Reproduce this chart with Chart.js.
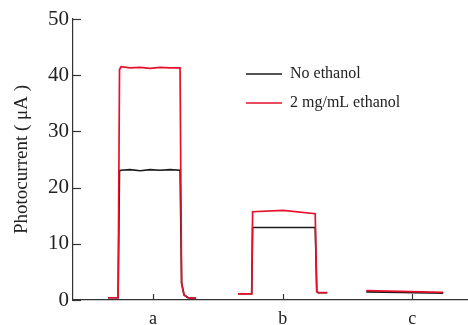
<!DOCTYPE html>
<html>
<head>
    <title>Photocurrent response</title>
    <script src="https://cdn.jsdelivr.net/npm/chart.js"></script>
    <style>
        body {
            margin: 0;
            background: #ffffff;
        }

        .chart-box {
            width: 468px;
            height: 325px;
        }
    </style>
</head>
<body>
<div class="chart-box">
    <canvas id="photoChart"></canvas>
</div>

<script>
    // x positions are in category units (a = 1, b = 2, c = 3)
    const categories = ['a', 'b', 'c'];
    const yTicks = [0, 10, 20, 30, 40, 50];

    // trace a
    const timeA = [0.653, 0.730, 0.741, 0.753, 0.822, 0.900, 0.977, 1.054, 1.131, 1.208, 1.220, 1.239, 1.270, 1.332];
    const noEthanolA = [0.4, 0.4, 23.0, 23.1, 23.2, 23.0, 23.2, 23.1, 23.2, 23.1, 3.0, 0.9, 0.4, 0.3];
    const ethanolA = [0.4, 0.4, 41.0, 41.5, 41.3, 41.4, 41.2, 41.4, 41.3, 41.3, 3.0, 0.9, 0.4, 0.3];

    // trace b
    const timeB = [1.656, 1.761, 1.768, 2.004, 2.251, 2.263, 2.274, 2.344];
    const noEthanolB = [1.1, 1.1, 12.9, 12.9, 12.9, 1.5, 1.3, 1.3];
    const ethanolB = [1.1, 1.1, 15.7, 15.95, 15.35, 1.5, 1.3, 1.3];

    // trace c
    const timeC = [2.645, 2.907, 3.239];
    const noEthanolC = [1.45, 1.35, 1.2];
    const ethanolC = [1.66, 1.55, 1.35];

    function buildPoints(parts) {
        const pts = [];
        parts.forEach(function (part, i) {
            if (i > 0) {
                pts.push({x: part[0][0] - 0.01, y: null});
            }
            part[0].forEach(function (t, j) {
                pts.push({x: t, y: part[1][j]});
            });
        });
        return pts;
    }

    const ethanolPoints = buildPoints([[timeA, ethanolA], [timeB, ethanolB], [timeC, ethanolC]]);
    const noEthanolPoints = buildPoints([[timeA, noEthanolA], [timeB, noEthanolB], [timeC, noEthanolC]]);

    const serif = "'Liberation Serif', 'DejaVu Serif', serif";

    // inward tick marks and the legend in the upper right
    const decorPlugin = {
        id: 'decor',
        afterDraw(chart) {
            const ctx = chart.ctx;
            const xs = chart.scales.x;
            const ys = chart.scales.y;
            const area = chart.chartArea;
            ctx.save();
            ctx.strokeStyle = '#333';
            ctx.lineWidth = 1.2;
            yTicks.forEach(function (v) {
                const py = Math.round(ys.getPixelForValue(v)) + 0.5;
                ctx.beginPath();
                ctx.moveTo(area.left, py);
                ctx.lineTo(area.left + 8, py);
                ctx.stroke();
            });
            [1, 2, 3].forEach(function (v) {
                const px = Math.round(xs.getPixelForValue(v)) + 0.5;
                ctx.beginPath();
                ctx.moveTo(px, area.bottom);
                ctx.lineTo(px, area.bottom - 6);
                ctx.stroke();
            });

            const legendItems = [
                {text: 'No ethanol', color: '#1a1a1a', y: 74},
                {text: '2 mg/mL ethanol', color: '#e5112b', y: 103}
            ];
            ctx.font = '16px ' + serif;
            ctx.textBaseline = 'middle';
            legendItems.forEach(function (item) {
                ctx.strokeStyle = item.color;
                ctx.lineWidth = 1.6;
                ctx.beginPath();
                ctx.moveTo(246, item.y);
                ctx.lineTo(282, item.y);
                ctx.stroke();
                ctx.fillStyle = '#222';
                ctx.fillText(item.text, 290, item.y);
            });
            ctx.restore();
        }
    };

    new Chart(document.getElementById('photoChart'), {
        type: 'line',
        data: {
            datasets: [
                {
                    label: '2 mg/mL ethanol',
                    data: ethanolPoints,
                    borderColor: '#e5112b',
                    borderWidth: 1.7,
                    pointRadius: 0,
                    tension: 0,
                    spanGaps: false
                },
                {
                    label: 'No ethanol',
                    data: noEthanolPoints,
                    borderColor: '#1a1a1a',
                    borderWidth: 1.6,
                    pointRadius: 0,
                    tension: 0,
                    spanGaps: false
                }
            ]
        },
        options: {
            responsive: true,
            maintainAspectRatio: false,
            animation: false,
            layout: {
                padding: {top: 19, right: 0, bottom: 0, left: 0}
            },
            plugins: {
                legend: {display: false},
                tooltip: {enabled: false}
            },
            scales: {
                x: {
                    type: 'linear',
                    min: 0.382,
                    max: 3.43,
                    afterBuildTicks: function (scale) {
                        scale.ticks = [{value: 1}, {value: 2}, {value: 3}];
                    },
                    afterFit: function (scale) {
                        scale.height = 25;
                    },
                    grid: {display: false},
                    border: {display: true, color: '#333', width: 1.2},
                    ticks: {
                        padding: 0,
                        color: '#222',
                        font: {family: serif, size: 18},
                        callback: function (v) {
                            return categories[v - 1];
                        }
                    }
                },
                y: {
                    min: 0,
                    max: 50,
                    afterBuildTicks: function (scale) {
                        scale.ticks = yTicks.map(function (v) { return {value: v}; });
                    },
                    afterFit: function (scale) {
                        scale.width = 73;
                    },
                    grid: {display: false},
                    border: {display: true, color: '#333', width: 1.2},
                    ticks: {
                        padding: -4,
                        color: '#222',
                        font: {family: serif, size: 21}
                    },
                    title: {
                        display: true,
                        text: 'Photocurrent ( μA )',
                        color: '#222',
                        font: {family: serif, size: 19},
                        padding: {top: 11, bottom: 0}
                    }
                }
            }
        },
        plugins: [decorPlugin]
    });
</script>
</body>
</html>
